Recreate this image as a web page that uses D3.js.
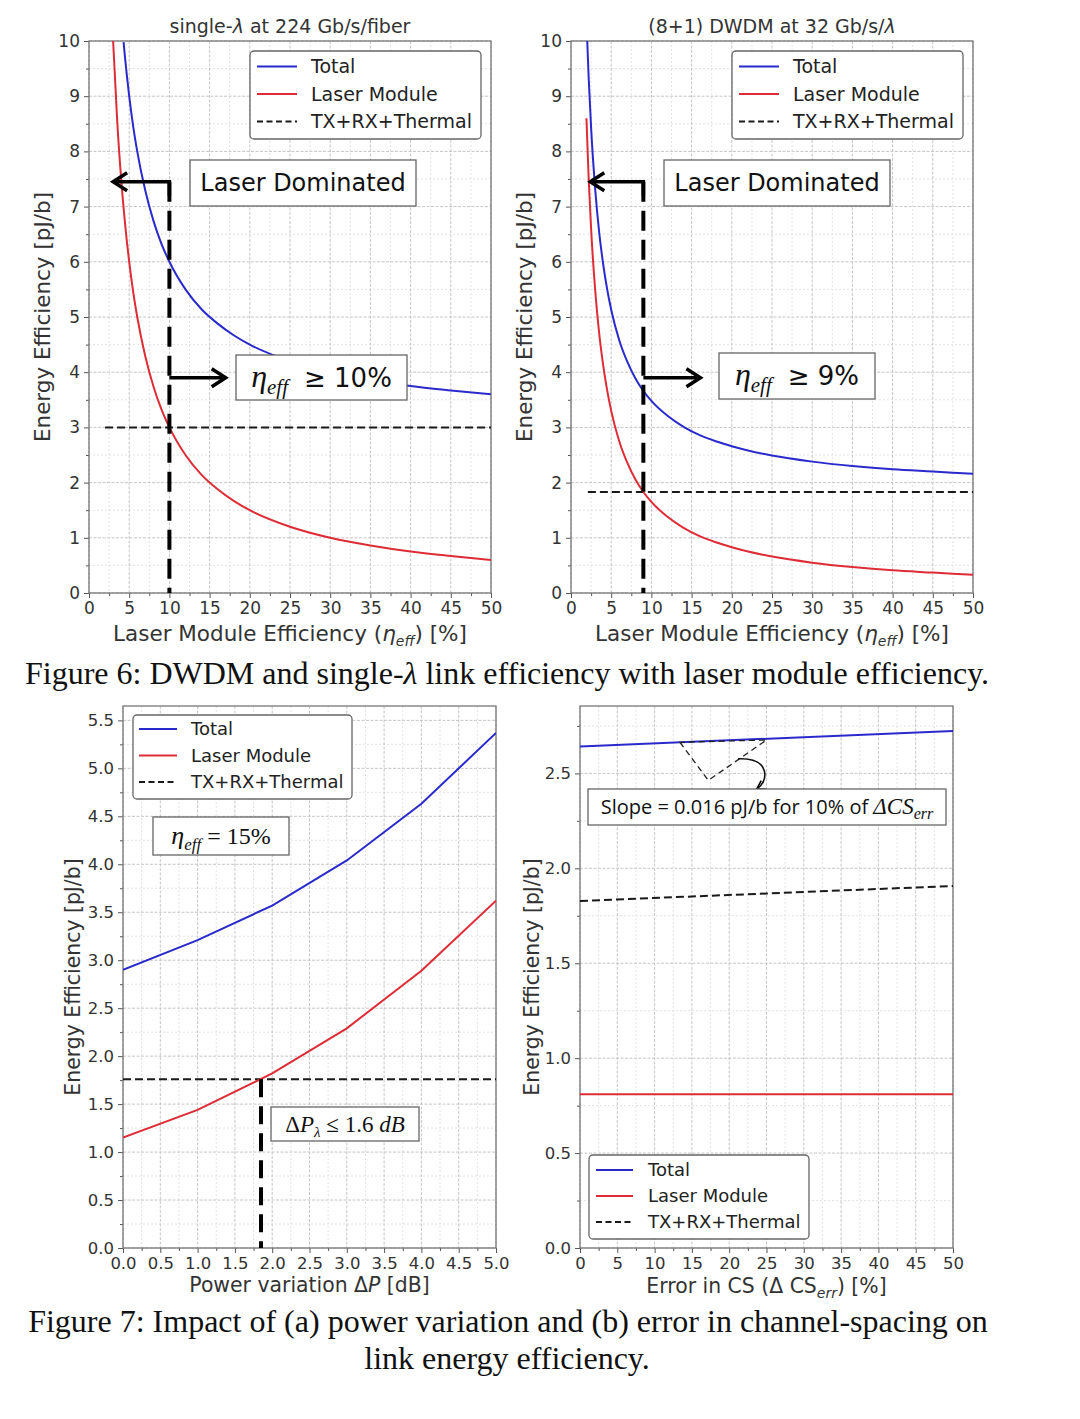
<!DOCTYPE html>
<html>
<head>
<meta charset="utf-8">
<script src="https://cdnjs.cloudflare.com/ajax/libs/d3/7.8.5/d3.min.js"></script>
<style>
  body { margin: 0; background: #fff; }
  svg { display: block; font-family: 'DejaVu Sans', sans-serif; }
  .tick text { fill: #333; }
  .tick line { stroke: #555; }
</style>
</head>
<body>
<script>
// ---- Figure 6 (left): single-lambda at 224 Gb/s/fiber
var effSingleLaser = [3, 3.5, 4, 4.5, 5, 5.5, 6, 7, 8, 9, 10, 12, 14, 16, 18, 20, 25, 30, 35, 40, 45, 50];
var laserSingle    = [10.0, 8.57, 7.5, 6.67, 6.0, 5.45, 5.0, 4.29, 3.75, 3.33, 3.0, 2.5, 2.14, 1.88, 1.67, 1.5, 1.2, 1.0, 0.86, 0.75, 0.67, 0.6];
var effSingleTotal = [4.3, 4.5, 5, 5.5, 6, 7, 8, 9, 10, 12, 14, 16, 18, 20, 25, 30, 35, 40, 45, 50];
var totalSingle    = [9.98, 9.67, 9.0, 8.45, 8.0, 7.29, 6.75, 6.33, 6.0, 5.5, 5.14, 4.88, 4.67, 4.5, 4.2, 4.0, 3.86, 3.75, 3.67, 3.6];
var effSingleTx    = [2, 50];
var txSingle       = [3.0, 3.0];

// ---- Figure 6 (right): (8+1) DWDM at 32 Gb/s/lambda
var effDwdmLaser = [1.92, 2.2, 2.5, 3, 3.5, 4, 4.5, 5, 6, 7, 8, 9, 10, 12, 14, 16, 18, 20, 25, 30, 35, 40, 45, 50];
var laserDwdm    = [8.6, 7.5, 6.6, 5.5, 4.71, 4.13, 3.67, 3.3, 2.75, 2.36, 2.06, 1.83, 1.65, 1.38, 1.18, 1.03, 0.92, 0.83, 0.66, 0.55, 0.47, 0.41, 0.37, 0.33];
var effDwdmTotal = [2.02, 2.2, 2.5, 3, 3.5, 4, 4.5, 5, 6, 7, 8, 9, 10, 12, 14, 16, 18, 20, 25, 30, 35, 40, 45, 50];
var totalDwdm    = [10.0, 9.33, 8.43, 7.33, 6.54, 5.96, 5.5, 5.13, 4.58, 4.19, 3.89, 3.66, 3.48, 3.21, 3.01, 2.86, 2.75, 2.66, 2.49, 2.38, 2.30, 2.24, 2.20, 2.16];
var effDwdmTx    = [2.1, 50];
var txDwdm       = [1.83, 1.83];

// ---- Figure 7a: power variation
var powerVar   = [0, 1, 2, 3, 4, 5];
var totalPower = [2.90, 3.21, 3.57, 4.04, 4.63, 5.37];
var laserPower = [1.15, 1.44, 1.82, 2.29, 2.89, 3.62];
var powerTxX   = [0, 5];
var txPower    = [1.76, 1.76];

// ---- Figure 7b: error in channel spacing
var csErr   = [0, 50];
var totalCs = [2.642, 2.723];
var laserCs = [0.81, 0.81];
var txCs    = [1.828, 1.907];

var legendLabels = ['Total', 'Laser Module', 'TX+RX+Thermal'];
var seriesColors = ['#2a2acc', '#de2c36', '#1a1a1a'];

var SERIF = "'Liberation Serif', 'Times New Roman', serif";
var W = 1080, H = 1419;

var svg = d3.select('body').append('svg').attr('width', W).attr('height', H);
svg.append('rect').attr('width', W).attr('height', H).attr('fill', '#fff');

// text with tspans (italic, subscript, font changes)
function rich(sel, parts) {
  var shift = 0;
  parts.forEach(function(p) {
    var ts = sel.append('tspan').text(p.t);
    var target = p.sub || 0;
    if (target !== shift) { ts.attr('dy', target - shift); shift = target; }
    if (p.i) ts.attr('font-style', 'italic');
    if (p.f) ts.attr('font-family', p.f);
    if (p.s) ts.attr('font-size', p.s);
    if (p.dx) ts.attr('dx', p.dx);
  });
  return sel;
}

function makePanel(p) {
  var g = svg.append('g');
  var b = p.box;
  var x = d3.scaleLinear().domain(p.xDomain).range([b[0], b[2]]);
  var y = d3.scaleLinear().domain(p.yDomain).range([b[3], b[1]]);

  svg.append('clipPath').attr('id', 'clip' + p.id).append('rect')
    .attr('x', b[0]).attr('y', b[1]).attr('width', b[2] - b[0]).attr('height', b[3] - b[1]);

  // grid: minor first, then major
  var grid = g.append('g');
  function vgrid(vals, color, dash) {
    grid.append('g').selectAll('line').data(vals).join('line')
      .attr('x1', function(d) { return x(d); }).attr('x2', function(d) { return x(d); })
      .attr('y1', b[1]).attr('y2', b[3])
      .attr('stroke', color).attr('stroke-dasharray', dash);
  }
  function hgrid(vals, color, dash) {
    grid.append('g').selectAll('line').data(vals).join('line')
      .attr('y1', function(d) { return y(d); }).attr('y2', function(d) { return y(d); })
      .attr('x1', b[0]).attr('x2', b[2])
      .attr('stroke', color).attr('stroke-dasharray', dash);
  }
  vgrid(p.xMinor, '#e3e3e3', '2,2');
  hgrid(p.yMinor, '#e3e3e3', '2,2');
  vgrid(p.xTicks, '#c6c6c6', '3,1.5');
  hgrid(p.yTicks, '#c6c6c6', '3,1.5');

  // axes
  var fs = p.tickSize;
  g.append('g').attr('transform', 'translate(0,' + b[3] + ')')
    .call(d3.axisBottom(x).tickValues(p.xTicks).tickFormat(p.xFmt).tickSize(5).tickPadding(4))
    .attr('font-size', fs).attr('font-family', null);
  g.append('g').attr('transform', 'translate(0,' + b[3] + ')')
    .call(d3.axisBottom(x).tickValues(p.xMinor).tickFormat(function() { return ''; }).tickSize(3));
  g.append('g').attr('transform', 'translate(' + b[0] + ',0)')
    .call(d3.axisLeft(y).tickValues(p.yTicks).tickFormat(p.yFmt).tickSize(5).tickPadding(4))
    .attr('font-size', fs).attr('font-family', null);
  g.append('g').attr('transform', 'translate(' + b[0] + ',0)')
    .call(d3.axisLeft(y).tickValues(p.yMinor).tickFormat(function() { return ''; }).tickSize(3));
  g.selectAll('.domain').remove();

  g.append('rect').attr('x', b[0]).attr('y', b[1])
    .attr('width', b[2] - b[0]).attr('height', b[3] - b[1])
    .attr('fill', 'none').attr('stroke', '#777').attr('stroke-width', 1.3);

  var plot = g.append('g').attr('clip-path', 'url(#clip' + p.id + ')');
  var over = g.append('g');
  return { g: g, plot: plot, over: over, x: x, y: y, box: b };
}

function drawSeries(pn, xs, ys, idx, curve, width) {
  var line = d3.line()
    .x(function(d, i) { return pn.x(xs[i]); })
    .y(function(d) { return pn.y(d); })
    .curve(curve || d3.curveMonotoneX);
  var path = pn.plot.append('path').datum(ys).attr('d', line)
    .attr('fill', 'none').attr('stroke', seriesColors[idx]).attr('stroke-width', width || 2);
  if (idx === 2) path.attr('stroke-dasharray', '8,4');
}

function legend(pn, box, rows, sx0, sx1, tx, fs) {
  var g = pn.over.append('g');
  g.append('rect').attr('x', box[0]).attr('y', box[1])
    .attr('width', box[2] - box[0]).attr('height', box[3] - box[1])
    .attr('rx', 4).attr('fill', '#fff').attr('stroke', '#666').attr('stroke-width', 1.3);
  legendLabels.forEach(function(lab, i) {
    var ln = g.append('line').attr('x1', sx0).attr('x2', sx1).attr('y1', rows[i]).attr('y2', rows[i])
      .attr('stroke', seriesColors[i]).attr('stroke-width', 2);
    if (i === 2) ln.attr('stroke-dasharray', '6,3.5');
    g.append('text').attr('x', tx).attr('y', rows[i]).attr('dy', '0.35em')
      .attr('font-size', fs).attr('fill', '#222').text(lab);
  });
}

function textBox(pn, box, parts, fs, family) {
  var g = pn.over.append('g');
  g.append('rect').attr('x', box[0]).attr('y', box[1])
    .attr('width', box[2] - box[0]).attr('height', box[3] - box[1])
    .attr('fill', '#fff').attr('stroke', '#666').attr('stroke-width', 1.3);
  var t = g.append('text').attr('x', (box[0] + box[2]) / 2).attr('y', (box[1] + box[3]) / 2)
    .attr('dy', '0.35em').attr('text-anchor', 'middle').attr('font-size', fs).attr('fill', '#111');
  if (family) t.attr('font-family', family);
  rich(t, parts);
}

function arrowHead(g, tx, ty, ang, len, half, w) {
  // ang: direction the arrow points to, in radians
  var c = Math.cos(ang), s = Math.sin(ang);
  var bx = tx - c * len, by = ty - s * len;
  g.append('path')
    .attr('d', 'M' + (bx - s * half) + ',' + (by + c * half) + 'L' + tx + ',' + ty + 'L' + (bx + s * half) + ',' + (by - c * half))
    .attr('fill', 'none').attr('stroke', '#000').attr('stroke-width', w).attr('stroke-linejoin', 'miter');
}

function titles(pn, title, xlab, ylabX, ylab, fsx, yTitle, yXlab) {
  var b = pn.box, cx = (b[0] + b[2]) / 2, cy = (b[1] + b[3]) / 2;
  if (title) rich(pn.g.append('text').attr('x', cx).attr('y', yTitle).attr('text-anchor', 'middle')
    .attr('font-size', 19).attr('fill', '#333'), title);
  rich(pn.g.append('text').attr('x', cx).attr('y', yXlab).attr('text-anchor', 'middle')
    .attr('font-size', fsx).attr('fill', '#333'), xlab);
  pn.g.append('text').attr('transform', 'translate(' + ylabX + ',' + cy + ') rotate(-90)')
    .attr('text-anchor', 'middle').attr('dy', '0.35em')
    .attr('font-size', fsx).attr('fill', '#333').text(ylab);
}

var yLabText = 'Energy Efficiency [pJ/b]';
var effLabel = [{ t: 'Laser Module Efficiency (' }, { t: 'η', i: 1 }, { t: 'eff', i: 1, s: 14, sub: 5 }, { t: ') [%]' }];

// ================= Figure 6 =================
var fig6 = {
  xDomain: [0, 50], yDomain: [0, 10],
  xTicks: d3.range(0, 51, 5), xMinor: d3.range(2.5, 50, 5),
  yTicks: d3.range(0, 11, 1), yMinor: d3.range(0.5, 10, 1),
  xFmt: d3.format('d'), yFmt: d3.format('d'), tickSize: 17
};

function fig6Panel(id, box, effL, laser, effT, total, effX, tx, markX, tipX, rightX, tt, dom, etaBox, etaParts) {
  var pn = makePanel(Object.assign({ id: id, box: box }, fig6));
  drawSeries(pn, effX, tx, 2);
  drawSeries(pn, effL, laser, 1);
  drawSeries(pn, effT, total, 0);
  legend(pn, [box[0] + 161, 51, box[0] + 392, 139], [66.5, 94, 121.5], box[0] + 168, box[0] + 208, box[0] + 222, 19);
  textBox(pn, dom, [{ t: 'Laser Dominated' }], 24);
  textBox(pn, etaBox, etaParts, 26);

  // threshold marker: thick dashed drop line with arrows
  var a = pn.over.append('g');
  var yTop = pn.y(7.45), yArr = pn.y(3.9);
  a.append('line').attr('x1', pn.x(markX)).attr('x2', pn.x(markX)).attr('y1', yTop).attr('y2', pn.y(0))
    .attr('stroke', '#000').attr('stroke-width', 4).attr('stroke-dasharray', '20,9');
  a.append('path').attr('d', 'M' + pn.x(markX) + ',' + (yTop + 14) + 'V' + yTop + 'H' + pn.x(tipX))
    .attr('fill', 'none').attr('stroke', '#000').attr('stroke-width', 3.5);
  arrowHead(a, pn.x(tipX), yTop, Math.PI, 14, 9, 3.5);
  a.append('line').attr('x1', pn.x(markX)).attr('x2', pn.x(rightX)).attr('y1', yArr).attr('y2', yArr)
    .attr('stroke', '#000').attr('stroke-width', 3.5);
  arrowHead(a, pn.x(rightX), yArr, 0, 14, 9, 3.5);

  titles(pn, tt, effLabel, box[0] - 47, yLabText, 21.5, 33, 641);
  return pn;
}

fig6Panel('a', [89, 41, 491, 593], effSingleLaser, laserSingle, effSingleTotal, totalSingle, effSingleTx, txSingle,
  10, 3.0, 17,
  [{ t: 'single-' }, { t: 'λ', i: 1 }, { t: ' at 224 Gb/s/fiber' }],
  [190, 160, 416, 206], [236, 355, 407, 400],
  [{ t: 'η', i: 1, f: SERIF, s: 32 }, { t: 'eff', i: 1, f: SERIF, s: 21, sub: 7 }, { t: '≥ 10%', dx: 16, sub: 0 }]);

fig6Panel('b', [571, 41, 973, 593], effDwdmLaser, laserDwdm, effDwdmTotal, totalDwdm, effDwdmTx, txDwdm,
  9, 2.4, 16.1,
  [{ t: '(8+1) DWDM at 32 Gb/s/' }, { t: 'λ', i: 1 }],
  [664, 160, 890, 206], [719, 353, 875, 399],
  [{ t: 'η', i: 1, f: SERIF, s: 32 }, { t: 'eff', i: 1, f: SERIF, s: 21, sub: 7 }, { t: '≥ 9%', dx: 16, sub: 0 }]);

// ================= Figure 7a =================
var pc = makePanel({
  id: 'c', box: [123, 706, 496, 1248],
  xDomain: [0, 5], yDomain: [0, 5.65],
  xTicks: d3.range(0, 5.01, 0.5), xMinor: d3.range(0.25, 5, 0.5),
  yTicks: d3.range(0, 5.51, 0.5), yMinor: d3.range(0.25, 5.6, 0.5),
  xFmt: d3.format('.1f'), yFmt: d3.format('.1f'), tickSize: 16.5
});
drawSeries(pc, powerTxX, txPower, 2);
drawSeries(pc, powerVar, laserPower, 1, d3.curveLinear);
drawSeries(pc, powerVar, totalPower, 0, d3.curveLinear);
pc.over.append('line').attr('x1', pc.x(1.85)).attr('x2', pc.x(1.85)).attr('y1', pc.y(1.76)).attr('y2', pc.y(0))
  .attr('stroke', '#000').attr('stroke-width', 4).attr('stroke-dasharray', '18,9');
legend(pc, [133, 715, 352, 799], [729, 755.5, 782], 139, 177, 191, 18);
textBox(pc, [153, 817, 289, 855], [{ t: 'η', i: 1, s: 26 }, { t: 'eff', i: 1, s: 17, sub: 6 }, { t: ' = 15%', sub: 0 }], 24, SERIF);
textBox(pc, [271, 1107, 419, 1141], [{ t: 'Δ' }, { t: 'P', i: 1 }, { t: 'λ', i: 1, s: 15, sub: 5 }, { t: ' ≤ 1.6 ', sub: 0 }, { t: 'dB', i: 1 }], 23, SERIF);
titles(pc, null, [{ t: 'Power variation Δ' }, { t: 'P', i: 1 }, { t: ' [dB]' }], 73, yLabText, 20.4, 0, 1292);

// ================= Figure 7b =================
var pd = makePanel({
  id: 'd', box: [580, 706, 953, 1248],
  xDomain: [0, 50], yDomain: [0, 2.855],
  xTicks: d3.range(0, 51, 5), xMinor: d3.range(2.5, 50, 5),
  yTicks: d3.range(0, 2.51, 0.5), yMinor: d3.range(0.25, 2.8, 0.5),
  xFmt: d3.format('d'), yFmt: d3.format('.1f'), tickSize: 16.5
});
drawSeries(pd, csErr, txCs, 2, d3.curveLinear);
drawSeries(pd, csErr, laserCs, 1, d3.curveLinear);
drawSeries(pd, csErr, totalCs, 0, d3.curveLinear);

// slope annotation: dashed triangle and curved arrow
var slopeTri = [[13.4, 2.664], [17.2, 2.463], [25.0, 2.676]];
var slopeArrow = [[21.2, 2.577], [25.6, 2.585], [25.3, 2.455], [23.7, 2.418]];
var ann = pd.over.append('g');
ann.append('path').attr('d', d3.line().x(function(d) { return pd.x(d[0]); }).y(function(d) { return pd.y(d[1]); })(slopeTri) + 'Z')
  .attr('fill', 'none').attr('stroke', '#222').attr('stroke-width', 1.3).attr('stroke-dasharray', '6,4');
var sp = slopeArrow.map(function(d) { return [pd.x(d[0]), pd.y(d[1])]; });
ann.append('path').attr('d', 'M' + sp[0] + 'C' + sp[1] + ' ' + sp[2] + ' ' + sp[3])
  .attr('fill', 'none').attr('stroke', '#111').attr('stroke-width', 1.6);
arrowHead(ann, sp[3][0], sp[3][1], Math.atan2(sp[3][1] - sp[2][1], sp[3][0] - sp[2][0]), 8, 5, 1.6);

textBox(pd, [588, 789, 946, 825],
  [{ t: 'Slope = 0.016 pJ/b for 10% of ' }, { t: 'ΔCS', i: 1, f: SERIF, s: 23 }, { t: 'err', i: 1, f: SERIF, s: 16, sub: 5 }],
  20, "'Open Sans', sans-serif");
legend(pd, [589, 1155, 809, 1239], [1170, 1196, 1222], 596, 633, 648, 18);
titles(pd, null, [{ t: 'Error in CS (Δ CS' }, { t: 'err', i: 1, s: 14, sub: 5 }, { t: ') [%]', sub: 0 }], 532, yLabText, 20.4, 0, 1293);

// ================= captions =================
function caption(x, y, parts) {
  rich(svg.append('text').attr('x', x).attr('y', y).attr('text-anchor', 'middle')
    .attr('font-family', SERIF).attr('font-size', 32).attr('fill', '#111'), parts);
}
caption(507, 684, [{ t: 'Figure 6: DWDM and single-' }, { t: 'λ', i: 1 }, { t: ' link efficiency with laser module efficiency.' }]);
caption(508, 1332, [{ t: 'Figure 7: Impact of (a) power variation and (b) error in channel-spacing on' }]);
caption(507, 1369, [{ t: 'link energy efficiency.' }]);
</script>
</body>
</html>
